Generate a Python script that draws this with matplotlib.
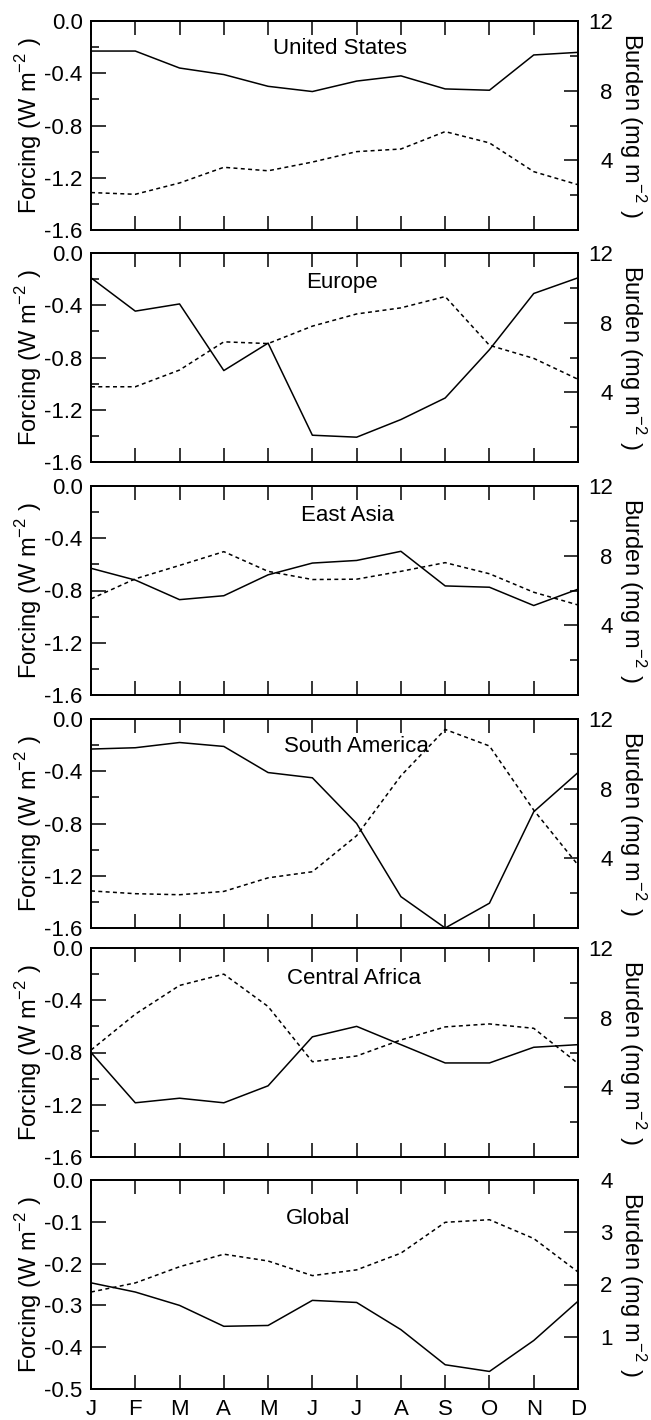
import matplotlib
matplotlib.use("Agg")
import matplotlib.pyplot as plt
import numpy as np

plt.rcParams['font.family'] = ['Liberation Sans', 'DejaVu Sans']
plt.rcParams['mathtext.fontset'] = 'custom'
plt.rcParams['mathtext.rm'] = 'Liberation Sans'

months = ["J", "F", "M", "A", "M", "J", "J", "A", "S", "O", "N", "D"]
regions = ["United States", "Europe", "East Asia", "South America", "Central Africa", "Global"]

# forcing (W m-2), solid lines
forcing_us = [-0.23, -0.23, -0.36, -0.41, -0.50, -0.54, -0.46, -0.42, -0.52, -0.53, -0.26, -0.24]
forcing_eu = [-0.19, -0.445, -0.39, -0.90, -0.69, -1.395, -1.41, -1.275, -1.11, -0.74, -0.31, -0.19]
forcing_ea = [-0.63, -0.72, -0.87, -0.84, -0.68, -0.59, -0.57, -0.50, -0.765, -0.775, -0.915, -0.79]
forcing_sa = [-0.23, -0.22, -0.18, -0.21, -0.41, -0.45, -0.80, -1.36, -1.60, -1.41, -0.71, -0.41]
forcing_ca = [-0.80, -1.185, -1.15, -1.185, -1.055, -0.68, -0.60, -0.74, -0.88, -0.88, -0.76, -0.74]
forcing_gl = [-0.246, -0.268, -0.30, -0.35, -0.348, -0.288, -0.293, -0.358, -0.442, -0.458, -0.384, -0.29]

# burden (mg m-2), dashed lines
burden_us = [2.15, 2.05, 2.7, 3.6, 3.4, 3.9, 4.5, 4.65, 5.65, 5.0, 3.35, 2.6]
burden_eu = [4.32, 4.32, 5.28, 6.9, 6.8, 7.8, 8.5, 8.85, 9.5, 6.7, 5.95, 4.75]
burden_ea = [5.52, 6.67, 7.44, 8.23, 7.1, 6.63, 6.65, 7.1, 7.6, 6.96, 5.9, 5.17]
burden_sa = [2.13, 1.97, 1.91, 2.1, 2.88, 3.23, 5.3, 8.74, 11.4, 10.45, 6.77, 3.62]
burden_ca = [6.14, 8.2, 9.85, 10.5, 8.64, 5.47, 5.8, 6.72, 7.47, 7.64, 7.39, 5.37]
burden_gl = [1.856, 2.03, 2.34, 2.58, 2.45, 2.17, 2.28, 2.6, 3.19, 3.24, 2.88, 2.24]

forcings = [forcing_us, forcing_eu, forcing_ea, forcing_sa, forcing_ca, forcing_gl]
burdens = [burden_us, burden_eu, burden_ea, burden_sa, burden_ca, burden_gl]

# tick values
f_major = [-1.6, -1.2, -0.8, -0.4, 0.0]
f_minor = [-1.4, -1.0, -0.6, -0.2]
b_major = [4, 8, 12]
b_minor = [2, 6, 10]
g_f_major = [-0.5, -0.4, -0.3, -0.2, -0.1, 0.0]
g_b_major = [1, 2, 3, 4]

title_x = [0.511, 0.515, 0.527, 0.546, 0.54, 0.466]
title_y = [0.87, 0.861, 0.858, 0.868, 0.853, 0.816]

W, H = 651, 1420
fig = plt.figure(figsize=(W / 100, H / 100), dpi=100)

left = 91 / W
width = (578 - 91) / W
tops = [21, 253, 486, 719, 948, 1180]
ph = 209
fs = 16

def fmt(v):
    s = "%.1f" % v
    return "0.0" if s == "-0.0" else s

x = np.arange(12)
for i in range(6):
    ax = fig.add_axes([left, 1 - (tops[i] + ph) / H, width, ph / H])
    ax.plot(x, forcings[i], color="black", lw=1.1)
    ax2 = ax.twinx()
    ax2.plot(x, burdens[i], color="black", lw=1.1, linestyle=(0, (2.6, 2.2)))

    ax.set_xlim(0, 11)
    if i < 5:
        ax.set_ylim(-1.6, 0)
        ax.set_yticks(f_major)
        ax.set_yticklabels([fmt(v) for v in f_major])
        ax.set_yticks(f_minor, minor=True)
        ax2.set_ylim(0, 12)
        ax2.set_yticks(b_major)
        ax2.set_yticklabels([str(v) for v in b_major])
        ax2.set_yticks(b_minor, minor=True)
    else:
        ax.set_ylim(-0.5, 0)
        ax.set_yticks(g_f_major)
        ax.set_yticklabels([fmt(v) for v in g_f_major])
        ax2.set_ylim(0, 4)
        ax2.set_yticks(g_b_major)
        ax2.set_yticklabels([str(v) for v in g_b_major])

    ax.set_xticks(x)
    if i == 5:
        ax.set_xticklabels(months)
    else:
        ax.set_xticklabels([])
    ax.tick_params(axis="x", which="major", direction="in", length=10, width=1.1,
                   top=True, labelsize=fs, pad=7)
    ax.tick_params(axis="y", which="major", direction="in", length=10.5, width=1.1,
                   labelsize=fs, pad=6)
    ax.tick_params(axis="y", which="minor", direction="in", length=5.5, width=1.1)
    ax2.tick_params(axis="y", which="major", direction="in", length=10, width=1.1,
                    labelsize=fs, pad=25)
    ax2.tick_params(axis="y", which="minor", direction="in", length=5.5, width=1.1)
    for lbl in ax2.get_yticklabels():
        lbl.set_horizontalalignment("right")

    for sp in ax.spines.values():
        sp.set_linewidth(1.3)
    for sp in ax2.spines.values():
        sp.set_linewidth(1.3)

    ax.set_ylabel("Forcing (W m$^{-2}$ )", fontsize=17, labelpad=0.5)
    ax2.set_ylabel("Burden (mg m$^{-2}$ )", fontsize=17, rotation=270, labelpad=25)
    ax.text(title_x[i], title_y[i], regions[i], transform=ax.transAxes,
            ha="center", va="center", fontsize=fs)

fig.savefig("out.png", dpi=100)
